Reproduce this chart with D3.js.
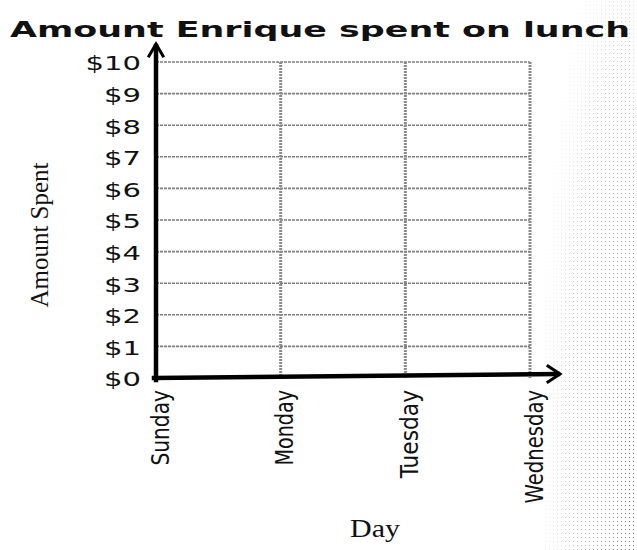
<!DOCTYPE html>
<html>
<head>
<meta charset="utf-8">
<script src="https://cdn.jsdelivr.net/npm/d3@7"></script>
<style>
  html, body { margin: 0; padding: 0; background: #fff; }
  svg { display: block; }
</style>
</head>
<body>
<svg id="chart" width="637" height="550"></svg>
<script>
// ---- data ----
const title = "Amount Enrique spent on lunch";
const days = ["Sunday", "Monday", "Tuesday", "Wednesday"];
const yTicks = [0, 1, 2, 3, 4, 5, 6, 7, 8, 9, 10];
const amounts = []; // blank worksheet: no values plotted yet
const xTitle = "Day";
const yTitle = "Amount Spent";

// ---- drawing ----
const svg = d3.select("#chart");
const W = 637, H = 550;

const x = d3.scalePoint().domain(days).range([156, 530]);
const y = d3.scaleLinear().domain([0, 10]).range([378, 62]);

// halftone dots on right edge (scan texture)
const defs = svg.append("defs");
const pat = defs.append("pattern").attr("id", "dots").attr("width", 4).attr("height", 4)
  .attr("patternUnits", "userSpaceOnUse");
pat.append("rect").attr("x", 1).attr("y", 1).attr("width", 1).attr("height", 1).attr("fill", "#666");
const grad = defs.append("radialGradient").attr("id", "fade")
  .attr("cx", 1).attr("cy", 0.85).attr("r", 1.1);
grad.append("stop").attr("offset", "0%").attr("stop-color", "#fff").attr("stop-opacity", 1);
grad.append("stop").attr("offset", "100%").attr("stop-color", "#fff").attr("stop-opacity", 0);
const mask = defs.append("mask").attr("id", "fadeMask");
mask.append("rect").attr("x", 545).attr("y", 0).attr("width", 92).attr("height", H).attr("fill", "url(#fade)");
svg.append("rect").attr("x", 545).attr("y", 0).attr("width", 92).attr("height", H)
  .attr("fill", "url(#dots)").attr("mask", "url(#fadeMask)");

// title
svg.append("text")
  .attr("x", 10).attr("y", 37)
  .attr("font-family", "DejaVu Sans").attr("font-weight", "bold")
  .attr("font-size", 22).attr("fill", "#111")
  .attr("textLength", 620).attr("lengthAdjust", "spacingAndGlyphs")
  .text(title);

// horizontal grid lines
const xEnd = x(days[days.length - 1]);
svg.append("g").selectAll("line").data(yTicks.filter(d => d > 0)).join("line")
  .attr("x1", x(days[0])).attr("x2", xEnd)
  .attr("y1", d => y(d)).attr("y2", d => y(d))
  .attr("stroke", "#7e7e7e").attr("stroke-width", 1.6)
  .attr("stroke-dasharray", "3,1");

// vertical grid lines
svg.append("g").selectAll("line").data(days.slice(1)).join("line")
  .attr("x1", d => x(d)).attr("x2", d => x(d))
  .attr("y1", y(10)).attr("y2", y(0))
  .attr("stroke", "#8a8a8a").attr("stroke-width", 3)
  .attr("stroke-dasharray", "2,1");

// y axis labels
const yAxis = d3.axisLeft(y).tickValues(yTicks).tickFormat(d => "$" + d).tickSize(0).tickPadding(15);
const gy = svg.append("g").attr("transform", `translate(${x(days[0])},0)`).call(yAxis);
gy.select(".domain").remove();
gy.selectAll("text")
  .attr("font-family", "DejaVu Sans").attr("font-size", 19).attr("fill", "#111")
  .attr("dy", "0.42em")
  .attr("textLength", d => ("$" + d).length * 18.5).attr("lengthAdjust", "spacingAndGlyphs");

// x axis labels (rotated)
const xAxis = d3.axisBottom(x).tickSize(0).tickPadding(0);
const gx = svg.append("g").attr("transform", `translate(0,${y(0)})`).call(xAxis);
gx.select(".domain").remove();
gx.selectAll("text")
  .attr("font-family", "DejaVu Sans Condensed, DejaVu Sans").attr("font-size", 24).attr("fill", "#111")
  .attr("text-anchor", "end")
  .attr("transform", "translate(12,12) rotate(-90)")
  .attr("x", 0).attr("y", 0).attr("dy", 0)
  .attr("textLength", d => d.length * 12.6).attr("lengthAdjust", "spacingAndGlyphs");

// axes lines with arrows
const ax = svg.append("g").attr("stroke", "#000").attr("fill", "none").attr("stroke-linecap", "square");
ax.append("line").attr("x1", x(days[0])).attr("x2", x(days[0]))
  .attr("y1", y(0) + 2).attr("y2", 46).attr("stroke-width", 4.5);
ax.append("path").attr("d", `M${x(days[0]) - 7},${56} L${x(days[0])},${44} L${x(days[0]) + 7},${56}`)
  .attr("stroke-width", 3);
ax.append("line").attr("x1", x(days[0]) - 2).attr("x2", 558)
  .attr("y1", y(0)).attr("y2", y(0) - 4).attr("stroke-width", 4.5);
ax.append("path").attr("d", `M548,${y(0) - 12} L560,${y(0) - 4} L548,${y(0) + 4}`)
  .attr("stroke-width", 3);

// axis titles
svg.append("text")
  .attr("x", 375).attr("y", 537).attr("text-anchor", "middle")
  .attr("font-family", "Liberation Serif").attr("font-size", 25).attr("fill", "#111")
  .attr("textLength", 50).attr("lengthAdjust", "spacingAndGlyphs")
  .text(xTitle);
svg.append("text")
  .attr("transform", "translate(48,235) rotate(-90)")
  .attr("text-anchor", "middle")
  .attr("font-family", "Liberation Serif").attr("font-size", 25).attr("fill", "#111")
  .text(yTitle);
</script>
</body>
</html>
